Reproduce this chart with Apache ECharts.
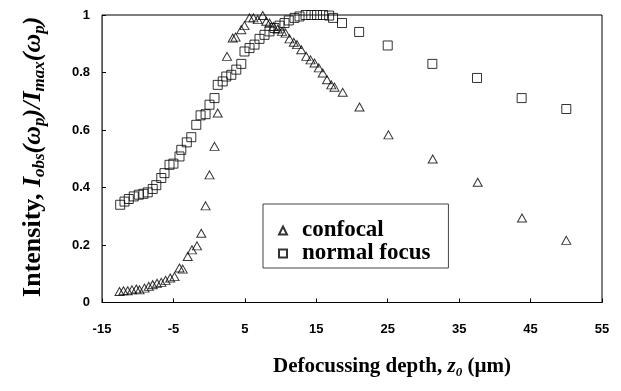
<!DOCTYPE html>
<html>
<head>
<meta charset="utf-8">
<script src="https://cdn.jsdelivr.net/npm/echarts@6/dist/echarts.min.js"></script>
<style>html,body{margin:0;padding:0;background:#fff}#c{width:621px;height:391px}</style>
</head>
<body>
<div id="c"></div>
<script>
// Normal focus (depth µm, normalised intensity)
const normalX = [-12.45,-11.85,-11.25,-10.55,-9.85,-9.2,-8.6,-7.9,-7.4,-6.7,-6.25,-5.55,-5.0,-4.15,-3.9,-3.13,-2.5,-1.8,-1.2,-0.5,0.05,0.75,1.2,1.9,2.4,3.1,3.8,4.5,4.95,5.65,6.35,7.05,7.75,8.45,9.15,9.85,10.55,11.15,11.95,12.65,13.5,14.3,15.1,15.95,16.8,17.35,18.6,21.0,25.0,31.25,37.5,43.75,50.0];
const normalY = [0.34,0.351,0.36,0.369,0.375,0.378,0.383,0.395,0.408,0.433,0.45,0.479,0.483,0.508,0.531,0.557,0.575,0.618,0.651,0.655,0.688,0.711,0.757,0.769,0.786,0.792,0.81,0.83,0.873,0.885,0.897,0.917,0.931,0.943,0.955,0.963,0.972,0.981,0.99,0.995,1.0,1.0,1.0,1.0,0.998,0.99,0.972,0.941,0.894,0.83,0.781,0.711,0.673];
// Confocal
const confX = [-12.55,-12.0,-11.4,-10.8,-10.2,-9.75,-9.05,-8.45,-7.9,-7.3,-6.7,-6.1,-5.45,-4.85,-4.15,-3.7,-3.0,-2.4,-1.7,-1.1,-0.5,0.05,0.75,1.2,2.5,3.3,3.7,4.5,4.95,5.65,6.2,6.8,7.5,8.0,8.45,9.0,9.6,10.2,10.7,11.25,11.85,12.3,12.9,13.6,14.2,14.75,15.35,15.9,16.5,17.1,17.55,18.7,21.05,25.1,31.3,37.6,43.8,50.0];
const confY = [0.038,0.041,0.041,0.044,0.047,0.044,0.05,0.056,0.062,0.067,0.07,0.077,0.085,0.09,0.12,0.116,0.16,0.183,0.197,0.241,0.336,0.444,0.543,0.659,0.856,0.92,0.923,0.949,0.963,0.99,0.99,0.984,0.998,0.978,0.972,0.96,0.951,0.943,0.937,0.917,0.905,0.897,0.879,0.856,0.844,0.833,0.816,0.798,0.775,0.757,0.749,0.731,0.68,0.583,0.499,0.418,0.294,0.216];
const seriesNames = ['confocal', 'normal focus'];
const xTicks = {min: -15, max: 55, interval: 10};
const yTicks = {min: 0, max: 1, interval: 0.2};

const serif = "'Liberation Serif','Times New Roman',serif";
const sans = "'Liberation Sans',Arial,sans-serif";
const zip = (a, b) => a.map((v, i) => [v, b[i]]);

const chart = echarts.init(document.getElementById('c'), null, {renderer: 'canvas'});
function styles(size, subSize) {
  const main = {fontFamily: serif, fontWeight: 'bold', fontSize: size, lineHeight: size + 4, verticalAlign: 'middle', color: '#000'};
  const ital = Object.assign({}, main, {fontStyle: 'italic'});
  const sub = {fontFamily: serif, fontWeight: 'bold', fontStyle: 'italic', fontSize: subSize, lineHeight: subSize, verticalAlign: 'bottom', color: '#000'};
  return {m: main, i: ital, s: sub};
}

chart.setOption({
  animation: false,
  backgroundColor: '#fff',
  grid: {left: 102, top: 15, width: 500, height: 287.5, show: true, borderColor: '#000', borderWidth: 1, backgroundColor: 'transparent'},
  legend: {
    orient: 'vertical', left: 263, top: 204,
    data: seriesNames,
    itemWidth: 8, itemHeight: 8, itemGap: 0,
    padding: [15, 18, 3, 15],
    borderColor: '#444', borderWidth: 1,
    textStyle: {fontFamily: serif, fontWeight: 'bold', fontSize: 23, color: '#000', padding: [0, 0, 0, 10]}
  },
  xAxis: {
    type: 'value', min: xTicks.min, max: xTicks.max, interval: xTicks.interval,
    axisLine: {show: true, onZero: false, lineStyle: {color: '#000', width: 1}},
    axisTick: {show: true, inside: true, length: 4, lineStyle: {color: '#000'}},
    splitLine: {show: false},
    axisLabel: {fontFamily: sans, fontWeight: 'bold', fontSize: 13, color: '#000', margin: 20},
    name: '{m|Defocussing depth, }{i|z}{s|0}{m| (\u00b5m)}',
    nameLocation: 'middle', nameGap: 52,
    nameTextStyle: {padding: [0, 0, 0, 80], rich: styles(21, 13)}
  },
  yAxis: {
    type: 'value', min: yTicks.min, max: yTicks.max, interval: yTicks.interval,
    axisLine: {show: true, onZero: false, lineStyle: {color: '#555', width: 1}},
    axisTick: {show: true, inside: true, length: 4, lineStyle: {color: '#000'}},
    splitLine: {show: false},
    axisLabel: {fontFamily: sans, fontWeight: 'bold', fontSize: 13, color: '#000', margin: 12},
    name: '{m|Intensity, }{i|I}{s|obs}{i|(\u03c9}{s|p}{i|)/I}{s|max}{i|(\u03c9}{s|p}{i|)}',
    nameLocation: 'middle', nameRotate: 90, nameGap: 54,
    nameTextStyle: {padding: [0, 0, 0, 4], rich: styles(26, 17)}
  },
  series: [
    {
      name: seriesNames[0], type: 'scatter', symbol: 'triangle', symbolSize: [9, 8],
      itemStyle: {color: 'rgba(255,255,255,0)', borderColor: '#000', borderWidth: 1},
      data: zip(confX, confY)
    },
    {
      name: seriesNames[1], type: 'scatter', symbol: 'rect', symbolSize: 9,
      itemStyle: {color: 'rgba(255,255,255,0)', borderColor: '#000', borderWidth: 1},
      data: zip(normalX, normalY)
    }
  ]
});
</script>
</body>
</html>
